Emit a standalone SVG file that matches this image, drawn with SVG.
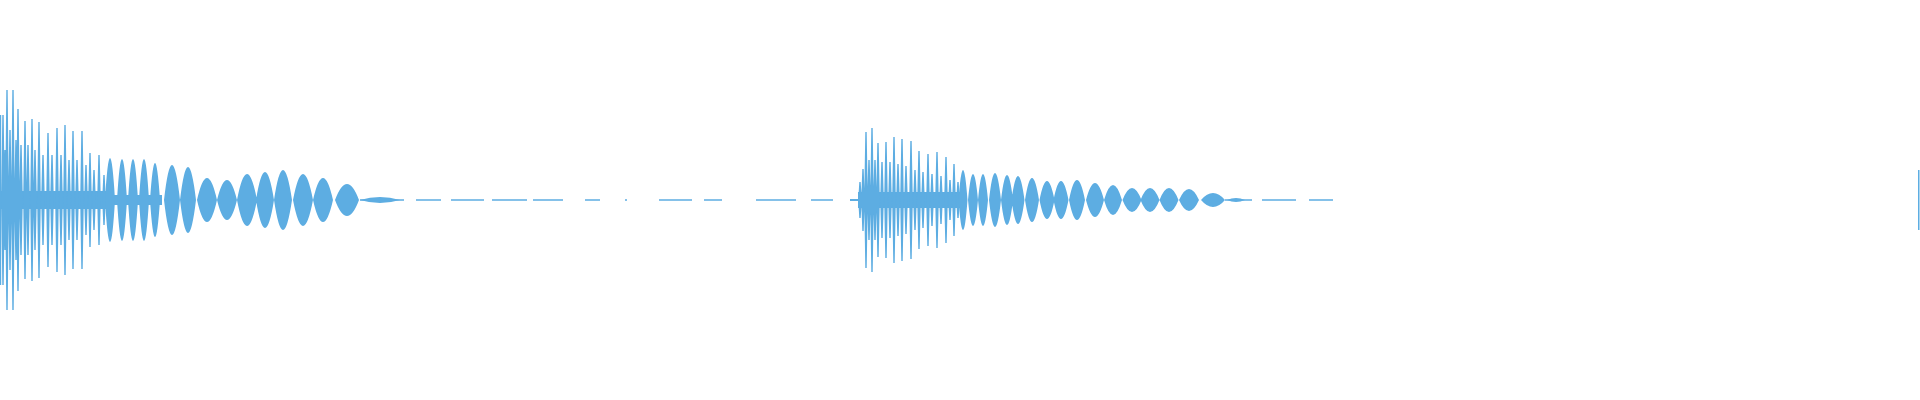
<svg xmlns="http://www.w3.org/2000/svg" width="1920" height="400" viewBox="0 0 1920 400">
<style>.w{fill:#5DADE2;stroke:none}.t{stroke:#5DADE2;stroke-width:1.6;fill:none}</style>
<rect width="1920" height="400" fill="#fff"/>
<g id="burst1" class="w">
<rect x="0" y="191" width="106" height="18"/>
<rect x="106" y="195" width="56" height="10"/>
<path d="M0,200l0,-85h1.2l0,85l0,85h-1.2z
M1.2,200l1.1,-85h1.4l1.1,85l-1.1,85h-1.4z
M3.2,200l1.1,-50h1.4l1.1,50l-1.1,50h-1.4z
M5.2,200l1.1,-110h1.4l1.1,110l-1.1,110h-1.4z
M8.2,200l1.1,-70h1.4l1.1,70l-1.1,70h-1.4z
M11.2,200l1.1,-110h1.4l1.1,110l-1.1,110h-1.4z
M14.2,200l1.1,-60h1.4l1.1,60l-1.1,60h-1.4z
M16.2,200l1.1,-91h1.4l1.1,91l-1.1,91h-1.4z
M19.2,200l1.1,-55h1.4l1.1,55l-1.1,55h-1.4z
M23.2,200l1.1,-79h1.4l1.1,79l-1.1,79h-1.4z
M26.2,200l1.1,-55h1.4l1.1,55l-1.1,55h-1.4z
M30.2,200l1.1,-81h1.4l1.1,81l-1.1,81h-1.4z
M33.2,200l1.1,-50h1.4l1.1,50l-1.1,50h-1.4z
M37.2,200l1.1,-78h1.4l1.1,78l-1.1,78h-1.4z
M41.2,200l1.1,-45h1.4l1.1,45l-1.1,45h-1.4z
M46.2,200l1.1,-67h1.4l1.1,67l-1.1,67h-1.4z
M50.2,200l1.1,-45h1.4l1.1,45l-1.1,45h-1.4z
M55.2,200l1.1,-72h1.4l1.1,72l-1.1,72h-1.4z
M59.2,200l1.1,-45h1.4l1.1,45l-1.1,45h-1.4z
M63.2,200l1.1,-75h1.4l1.1,75l-1.1,75h-1.4z
M67.2,200l1.1,-40h1.4l1.1,40l-1.1,40h-1.4z
M71.2,200l1.1,-69h1.4l1.1,69l-1.1,69h-1.4z
M75.2,200l1.1,-40h1.4l1.1,40l-1.1,40h-1.4z
M80.2,200l1.1,-69h1.4l1.1,69l-1.1,69h-1.4z
M84.2,200l1.1,-35h1.4l1.1,35l-1.1,35h-1.4z
M88.2,200l1.1,-47h1.4l1.1,47l-1.1,47h-1.4z
M92.2,200l1.1,-30h1.4l1.1,30l-1.1,30h-1.4z
M97.2,200l1.1,-45h1.4l1.1,45l-1.1,45h-1.4z
M102.2,200l1.1,-25h1.4l1.1,25l-1.1,25h-1.4z"/>
<path d="M105,200Q110,116 115,200Q110,284 105,200ZM117,200Q122,118 127,200Q122,282 117,200ZM128,200Q133,118 138,200Q133,282 128,200ZM139,200Q144,118 149,200Q144,282 139,200ZM150,200Q155,126 160,200Q155,274 150,200ZM164,200Q172,130 180,200Q172,270 164,200ZM180,200Q188,134 196,200Q188,266 180,200ZM197,200Q207,156 217,200Q207,244 197,200ZM217,200Q227,160 237,200Q227,240 217,200ZM237,200Q247,148 257,200Q247,252 237,200ZM256,200Q265,144 274,200Q265,256 256,200ZM274,200Q283,140 292,200Q283,260 274,200ZM293,200Q303,148 313,200Q303,252 293,200ZM313,200Q323,156 333,200Q323,244 313,200ZM335,200Q347,168 359,200Q347,232 335,200Z"/>
</g>
<g id="tail1" class="t">
<path d="M360,200H404M416,200H441M451,200H484M492,200H527M533,200H563M585,200H600M625,200H627M659,200H692M704,200H722M756,200H796M811,200H833M852,200H857"/>
<path d="M360,200Q380,194 400,200Q380,206 360,200" class="w"/>
</g>
<g id="burst2" class="w">
<rect x="850" y="199" width="10" height="2"/>
<rect x="858" y="192" width="105" height="16"/>
<path d="M858.2,200l1.1,-18h1.4l1.1,18l-1.1,18h-1.4z
M861.2,200l1.1,-31h1.4l1.1,31l-1.1,31h-1.4z
M864.2,200l1.1,-68h1.4l1.1,68l-1.1,68h-1.4z
M867.2,200l1.1,-40h1.4l1.1,40l-1.1,40h-1.4z
M870.2,200l1.1,-72h1.4l1.1,72l-1.1,72h-1.4z
M873.2,200l1.1,-40h1.4l1.1,40l-1.1,40h-1.4z
M876.2,200l1.1,-57h1.4l1.1,57l-1.1,57h-1.4z
M880.2,200l1.1,-38h1.4l1.1,38l-1.1,38h-1.4z
M884.2,200l1.1,-58h1.4l1.1,58l-1.1,58h-1.4z
M888.2,200l1.1,-38h1.4l1.1,38l-1.1,38h-1.4z
M892.2,200l1.1,-63h1.4l1.1,63l-1.1,63h-1.4z
M896.2,200l1.1,-36h1.4l1.1,36l-1.1,36h-1.4z
M900.2,200l1.1,-61h1.4l1.1,61l-1.1,61h-1.4z
M904.2,200l1.1,-34h1.4l1.1,34l-1.1,34h-1.4z
M909.2,200l1.1,-59h1.4l1.1,59l-1.1,59h-1.4z
M913.2,200l1.1,-30h1.4l1.1,30l-1.1,30h-1.4z
M917.2,200l1.1,-49h1.4l1.1,49l-1.1,49h-1.4z
M921.2,200l1.1,-28h1.4l1.1,28l-1.1,28h-1.4z
M926.2,200l1.1,-46h1.4l1.1,46l-1.1,46h-1.4z
M930.2,200l1.1,-26h1.4l1.1,26l-1.1,26h-1.4z
M935.2,200l1.1,-48h1.4l1.1,48l-1.1,48h-1.4z
M939.2,200l1.1,-24h1.4l1.1,24l-1.1,24h-1.4z
M944.2,200l1.1,-43h1.4l1.1,43l-1.1,43h-1.4z
M948.2,200l1.1,-20h1.4l1.1,20l-1.1,20h-1.4z
M952.2,200l1.1,-36h1.4l1.1,36l-1.1,36h-1.4z
M956.2,200l1.1,-18h1.4l1.1,18l-1.1,18h-1.4z"/>
<path d="M958.5,200Q963,140 967.5,200Q963,260 958.5,200ZM968,200Q973,148 978,200Q973,252 968,200ZM978,200Q983,148 988,200Q983,252 978,200ZM989,200Q995,146 1001,200Q995,254 989,200ZM1001,200Q1007,150 1013,200Q1007,250 1001,200ZM1011.5,200Q1018,152 1024.5,200Q1018,248 1011.5,200ZM1025,200Q1032,156 1039,200Q1032,244 1025,200ZM1039.5,200Q1047,162 1054.5,200Q1047,238 1039.5,200ZM1053.5,200Q1061,162 1068.5,200Q1061,238 1053.5,200ZM1069,200Q1077,160 1085,200Q1077,240 1069,200ZM1086,200Q1095,166 1104,200Q1095,234 1086,200ZM1104,200Q1113,170 1122,200Q1113,230 1104,200ZM1122.5,200Q1132,176 1141.5,200Q1132,224 1122.5,200ZM1140.5,200Q1150,176 1159.5,200Q1150,224 1140.5,200ZM1159.5,200Q1169,176 1178.5,200Q1169,224 1159.5,200ZM1179,200Q1189,178 1199,200Q1189,222 1179,200ZM1201,200Q1213,186 1225,200Q1213,214 1201,200Z"/>
</g>
<g id="tail2" class="t">
<path d="M1225,200H1252M1262,200H1296M1309,200H1333"/>
<path d="M1227,200Q1236,196 1245,200Q1236,204 1227,200" class="w"/>
</g>
<g id="marker"><rect x="1918" y="170" width="1.5" height="60" fill="#5DADE2"/></g>
</svg>
